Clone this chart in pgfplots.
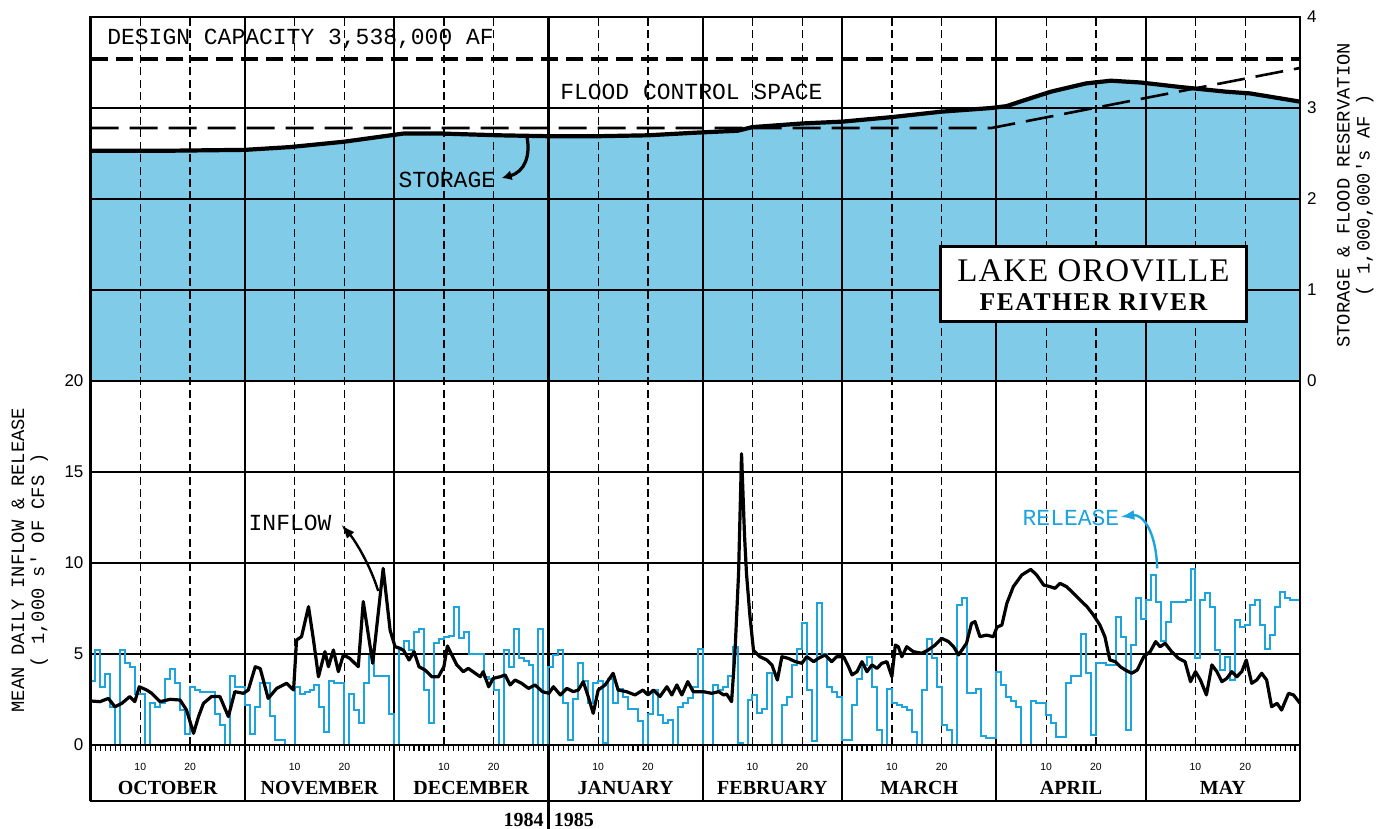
\documentclass[border=0pt]{standalone}
\usepackage{fontspec}
\setmainfont{Liberation Serif}
\newfontfamily\leroy{Liberation Mono}
\newfontfamily\numfont{Liberation Sans}
\newfontfamily\boxfontA[LetterSpace=3]{Liberation Serif}
\newfontfamily\boxfontB[LetterSpace=6]{Liberation Serif}
\usepackage{pgfplots}
\usepackage{pgfplotstable}
\pgfplotsset{compat=1.18}
\usetikzlibrary{arrows.meta}
\definecolor{lake}{RGB}{128,203,232}
\definecolor{rel}{RGB}{28,164,222}

% storage, 1,000,000's AF ; d = days since Oct 1, 1984
\pgfplotstableread{
d s
0 2.53
15 2.53
31 2.54
40 2.57
51 2.63
59 2.69
63 2.72
70 2.72
82 2.70
92 2.69
102 2.69
112 2.70
122 2.73
130 2.75
133 2.79
143 2.83
151 2.85
161 2.90
171 2.96
181 3.00
184 3.02
189 3.11
193 3.18
200 3.27
205 3.30
211 3.28
219 3.23
228 3.18
233 3.16
243 3.07
}\storage

% flood control reservation
\pgfplotstableread{
d s
0 2.78
181 2.78
243 3.44
}\flood

% mean daily inflow, 1,000 cfs
\pgfplotstableread{
d f
0 2.42
1.9 2.38
3.6 2.56
4.9 2.1
6.3 2.29
7.9 2.66
8.9 2.38
9.8 3.2
11.3 3.02
12.3 2.84
14 2.38
16 2.51
18 2.47
19.3 1.92
20.7 0.64
21.7 1.56
22.7 2.29
24.3 2.66
26 2.66
27.7 1.56
29 2.93
30.7 2.84
31.7 3.02
33.1 4.3
34.1 4.2
35.7 2.56
37.4 3.11
39.4 3.39
40.8 3.02
41.4 5.77
42.4 5.95
43.8 7.6
44.8 5.77
45.8 3.75
47.1 5.13
47.8 4.3
48.8 5.22
49.8 4.03
50.8 4.95
52.1 4.76
53.8 4.3
54.8 7.88
56.7 4.49
58.8 9.7
60.2 6.3
61.2 5.4
62.2 5.31
62.9 5.2
64 4.67
65 5.13
66 4.3
67.2 4.12
68.6 3.75
69.9 3.75
71 4.3
71.7 5.44
72.6 4.95
73.6 4.4
74.9 4.03
75.9 4.21
77.3 3.94
78.3 3.75
78.9 4.03
80 3.2
80.9 3.66
82.3 3.75
83.3 3.85
84.3 3.3
85.3 3.57
86.6 3.39
88 3.11
89.3 3.3
90.8 2.93
92.1 2.84
93 3.2
94.4 2.75
95.7 3.11
97 2.93
98 3.02
99 3.48
100 2.66
101 1.74
102 3.02
103.4 3.3
105 3.94
106 3.02
107.7 2.93
109.4 2.75
111 3.02
112 2.75
113.1 3.02
114.4 2.66
115.8 3.2
116.8 2.75
117.8 3.3
118.8 2.75
120 3.48
121.1 2.93
123.1 2.93
124.8 2.84
126.2 2.93
127.2 2.75
127.8 2.8
128.8 2.38
129.5 5.2
130.2 9.4
130.8 16.0
131.4 11.5
131.8 9.4
132.5 7.05
133.2 5.2
134.5 4.85
135.9 4.67
136.9 4.4
138 3.57
138.9 4.85
140.2 4.76
141.6 4.58
142.9 4.49
143.9 4.85
145.3 4.58
146.2 4.76
147.6 4.95
148.9 4.58
149.9 4.85
151.3 4.85
152.3 4.3
153 3.85
154 4.03
155 4.58
156 4.03
157 4.4
158 4.21
159 4.49
160 4.58
161 3.75
161.7 5.49
162.3 5.4
163 4.85
164 5.4
165.3 5.13
167 5.04
168.3 5.22
169.7 5.49
171 5.86
172.4 5.68
173.4 5.4
174.4 4.95
176 5.59
177 6.68
177.7 6.78
178.7 5.95
180 6.04
181.4 5.95
182.1 6.47
183.1 6.59
184.1 7.78
185.4 8.7
187.1 9.34
188.9 9.65
190.1 9.34
191.5 8.79
192.8 8.7
193.8 8.61
194.8 8.88
196.1 8.7
197.5 8.33
198.8 7.97
200.2 7.6
201.5 7.14
202.8 6.59
203.8 5.95
204.8 4.67
205.9 4.58
206.9 4.3
207.9 4.12
209.2 3.94
210.3 4.12
211.6 4.85
212.9 5.13
214 5.68
214.9 5.4
215.9 5.59
217.2 5.13
218.6 4.76
219.9 4.58
221 3.48
222 4.03
223 3.57
224.2 2.75
225.3 4.4
226.3 4.03
227.3 3.48
228.3 3.66
229.3 4.03
230.3 3.75
231.3 4.03
232.2 4.67
233.3 3.39
234.3 3.57
235.3 3.94
236.3 3.57
237.3 2.1
238.4 2.29
239.3 1.92
240.7 2.84
241.7 2.75
243 2.29
}\inflow

% mean daily release, 1,000 cfs (value held for the day starting at d)
\pgfplotstableread{
d r
0 3.5
1 5.2
2 3.2
3 3.9
4 2.1
5 0
6 5.2
7 4.5
8 4.3
9 2.8
10 2.8
11 0
12 2.3
13 2.1
14 2.3
15 3.6
16 4.2
17 3.4
18 1.9
19 0.6
20 3.2
21 3.0
22 2.9
23 2.9
24 2.9
25 1.7
26 1.1
27 0
28 3.8
29 3.2
30 3.2
31 2.2
32 0.6
33 2.1
34 3.4
35 3.4
36 1.6
37 0.3
38 0.3
39 0
40 0
41 3.2
42 2.8
43 2.9
44 3.0
45 3.3
46 2.1
47 0.7
48 3.5
49 3.4
50 3.4
51 0
52 2.8
53 1.9
54 1.2
55 3.4
56 4.9
57 3.8
58 3.8
59 3.8
60 1.7
61 0
62 5.2
63 5.7
64 5.2
65 6.2
66 6.4
67 3.0
68 1.2
69 5.6
70 5.8
71 5.95
72 6.0
73 7.6
74 5.9
75 6.2
76 5.0
77 5.0
78 5.0
79 3.75
80 3.6
81 3.0
82 0
83 5.2
84 4.3
85 6.4
86 4.76
87 4.6
88 4.4
89 0
90 6.4
91 0
92 4.3
93 4.95
94 5.2
95 2.3
96 0.3
97 2.5
98 4.5
99 3.5
100 2.3
101 3.4
102 3.5
103 0.1
104 3.6
105 2.3
106 3.1
107 2.66
108 2.0
109 2.0
110 1.3
111 0
112 1.7
113 3.0
114 1.65
115 1.2
116 1.37
117 0
118 2.1
119 2.3
120 2.56
121 3.2
122 5.3
123 0
124 0
125 3.3
126 3.0
127 3.2
128 3.8
129 5.4
130 0.1
131 0
132 2.47
133 2.75
134 1.74
135 2.0
136 3.94
137 0
138 0
139 2.2
140 2.66
141 4.4
142 5.3
143 6.7
144 3.0
145 0.2
146 7.8
147 5.0
148 3.2
149 2.93
150 2.66
151 0.3
152 0.3
153 2.2
154 3.6
155 4.4
156 4.85
157 3.2
158 0.8
159 0
160 3.1
161 2.3
162 2.2
163 2.1
164 1.9
165 0.7
166 0
167 3.0
168 5.8
169 4.76
170 3.2
171 1.1
172 0.8
173 0
174 7.7
175 8.06
176 2.84
177 2.84
178 3.1
179 0.5
180 0.4
181 0.4
182 4.0
183 3.3
184 2.66
185 2.4
186 2.1
187 0
188 0
189 2.4
190 2.3
191 2.3
192 1.65
193 1.2
194 0.45
195 0.45
196 3.4
197 3.8
198 3.8
199 6.1
200 3.94
201 0.55
202 4.5
203 4.5
204 4.4
205 4.4
206 7.05
207 5.95
208 0.8
209 5.5
210 8.06
211 6.9
212 7.97
213 9.34
214 7.88
215 5.7
216 6.78
217 7.88
218 7.88
219 7.88
220 7.97
221 9.65
222 4.76
223 7.97
224 8.33
225 7.6
226 5.2
227 4.12
228 4.85
229 3.57
230 6.87
231 6.5
232 6.6
233 7.7
234 7.97
235 6.6
236 5.3
237 6.04
238 7.6
239 8.4
240 8.06
241 7.97
242 7.97
243 7.97
}\release

\begin{document}
\begin{tikzpicture}
\path[use as bounding box] (0,0) rectangle (693.5pt,414.5pt);
\begin{axis}[
  at={(45.25pt,42pt)}, anchor=south west,
  width=604.75pt, height=364pt, scale only axis,
  xmin=0, xmax=243, ymin=0, ymax=40,
  clip=false, axis on top,
  axis line style={line width=1.3pt},
  xtick=\empty,
  ytick={0,5,10,15,20},
  major tick length=0pt,
  ticklabel style={font=\numfont\fontsize{8.5}{10}\selectfont},
  /pgf/number format/assume math mode=true,
]
% lake storage area
\addplot[fill=lake, draw=none, y filter/.expression={20+5*y}]
  table[x=d, y=s]{\storage} -- (axis cs:243,20) -- (axis cs:0,20) -- cycle;

% grid: horizontal
\pgfplotsinvokeforeach{5,10,15,20,25,30,35}{
  \draw[line width=0.8pt] (axis cs:0,#1) -- (axis cs:243,#1);
}
% day 10 and 20 dashed lines
\pgfplotsinvokeforeach{10,20,41,51,71,81,102,112,133,143,161,171,192,202,222,232}{
  \draw[line width=0.65pt, dash pattern=on 4pt off 2.2pt] (axis cs:#1,0) -- (axis cs:#1,40);
}
% month lines
\pgfplotsinvokeforeach{0,31,61,123,151,182,212,243}{
  \draw[line width=1pt] (axis cs:#1,-3.08) -- (axis cs:#1,40);
}
\draw[line width=1.5pt] (axis cs:92,-4.6) -- (axis cs:92,40);
% daily ticks
\pgfplotsinvokeforeach{1,...,242}{
  \draw[line width=0.55pt] (axis cs:#1,0) -- (axis cs:#1,-0.31);
}
\draw[line width=1.3pt] (axis cs:0,-3.08) -- (axis cs:243,-3.08);

% design capacity and flood control reservation
\addplot[black, line width=1.9pt, dash pattern=on 8.5pt off 4pt, y filter/.expression={20+5*y}]
  coordinates {(0,3.538) (243,3.538)};
\addplot[black, line width=1.3pt, dash pattern=on 14pt off 5.5pt, y filter/.expression={20+5*y}]
  table[x=d, y=s]{\flood};
% storage line
\addplot[black, line width=2.1pt, line join=round, y filter/.expression={20+5*y}]
  table[x=d, y=s]{\storage};
% release
\addplot[rel, line width=1pt, const plot mark left] table[x=d, y=r]{\release};
% inflow
\addplot[black, line width=1.6pt, line join=round] table[x=d, y=f]{\inflow};

% annotations
\node[font=\leroy\fontsize{11.5}{13}\selectfont, anchor=west, inner sep=0pt] at (axis cs:3.3,38.8) {DESIGN CAPACITY 3,538,000 AF};
\node[font=\leroy\fontsize{11.5}{13}\selectfont, anchor=west, inner sep=0pt] at (axis cs:94.3,35.88) {FLOOD CONTROL SPACE};
\node[font=\leroy\fontsize{11.5}{13}\selectfont, anchor=west, inner sep=0pt] at (axis cs:61.8,31.04) {STORAGE};
\draw[line width=1.6pt, {Latex[length=5pt,width=5pt]}-] (axis cs:82.6,31.15) .. controls (axis cs:87.3,31.5) and (axis cs:88.4,32.4) .. (axis cs:87.7,33.4);
\node[font=\leroy\fontsize{11.5}{13}\selectfont, anchor=west, inner sep=0pt] at (axis cs:31.7,12.2) {INFLOW};
\draw[line width=1.2pt, {Latex[length=7pt,width=5pt]}-] (axis cs:50.4,12.1) .. controls (axis cs:53.1,11.26) and (axis cs:56.2,9.9) .. (axis cs:57.8,8.46);
\node[rel, font=\leroy\fontsize{11.5}{13}\selectfont, anchor=west, inner sep=0pt] at (axis cs:187.2,12.47) {RELEASE};
\draw[rel, line width=1.2pt, {Latex[length=7pt,width=5pt]}-] (axis cs:206.9,12.53) .. controls (axis cs:211.3,12.7) and (axis cs:214.1,11.8) .. (axis cs:214.3,9.7);

% axis titles
\node[font=\leroy\fontsize{9.4}{10}\selectfont, rotate=90, align=center] at (axis cs:-12.2,10.16) {MEAN DAILY INFLOW \& RELEASE\\( 1,000 s' OF CFS )};
\node[font=\leroy\fontsize{9.4}{10}\selectfont, rotate=90, align=center] at (axis cs:254.1,30.2) {STORAGE \& FLOOD RESERVATION\\( 1,000,000's AF )};

% day numbers in the month band
\pgfplotsinvokeforeach{10,41,71,102,133,161,192,222}{
  \node[font=\numfont\fontsize{5.2}{6}\selectfont, inner sep=0pt] at (axis cs:#1,-1.19) {10};
}
\pgfplotsinvokeforeach{20,51,81,112,143,171,202,232}{
  \node[font=\numfont\fontsize{5.2}{6}\selectfont, inner sep=0pt] at (axis cs:#1,-1.19) {20};
}
\node[font=\bfseries\fontsize{10}{12}\selectfont, inner sep=0pt] at (axis cs:15.5,-2.35) {OCTOBER};
\node[font=\bfseries\fontsize{10}{12}\selectfont, inner sep=0pt] at (axis cs:46,-2.35) {NOVEMBER};
\node[font=\bfseries\fontsize{10}{12}\selectfont, inner sep=0pt] at (axis cs:76.5,-2.35) {DECEMBER};
\node[font=\bfseries\fontsize{10}{12}\selectfont, inner sep=0pt] at (axis cs:107.5,-2.35) {JANUARY};
\node[font=\bfseries\fontsize{10}{12}\selectfont, inner sep=0pt] at (axis cs:137,-2.35) {FEBRUARY};
\node[font=\bfseries\fontsize{10}{12}\selectfont, inner sep=0pt] at (axis cs:166.5,-2.35) {MARCH};
\node[font=\bfseries\fontsize{10}{12}\selectfont, inner sep=0pt] at (axis cs:197,-2.35) {APRIL};
\node[font=\bfseries\fontsize{10}{12}\selectfont, inner sep=0pt] at (axis cs:227.5,-2.35) {MAY};
\node[font=\bfseries\fontsize{10}{12}\selectfont, inner sep=0pt, anchor=east] at (axis cs:91.1,-4.12) {1984};
\node[font=\bfseries\fontsize{10}{12}\selectfont, inner sep=0pt, anchor=west] at (axis cs:93,-4.12) {1985};

\coordinate (boxc) at (axis cs:201.5,25.35);
\end{axis}

\node[draw, line width=1.5pt, fill=white, minimum width=153pt, minimum height=37.5pt, inner sep=0pt] at (boxc) {};
\node[font=\boxfontA\fontsize{16.5}{18}\selectfont, inner sep=0pt] at ([yshift=6.5pt]boxc) {LAKE OROVILLE};
\node[font=\boxfontB\bfseries\fontsize{12.8}{14}\selectfont, inner sep=0pt] at ([yshift=-9.5pt]boxc) {FEATHER RIVER};

\begin{axis}[
  at={(45.25pt,42pt)}, anchor=south west,
  width=604.75pt, height=364pt, scale only axis,
  xmin=0, xmax=243, ymin=-4, ymax=4,
  axis x line=none, axis y line*=right,
  axis line style={draw=none},
  ytick={0,1,2,3,4},
  major tick length=0pt,
  ticklabel style={font=\numfont\fontsize{8.5}{10}\selectfont},
  /pgf/number format/assume math mode=true,
]
\end{axis}
\end{tikzpicture}
\end{document}
